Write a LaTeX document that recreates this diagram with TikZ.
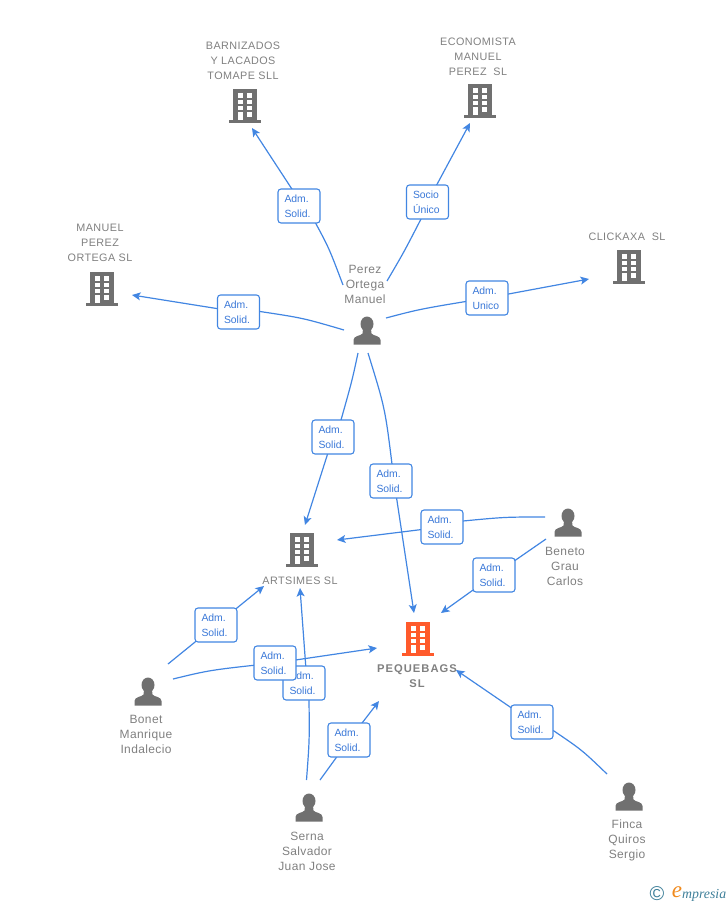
\documentclass[tikz,border=0pt]{standalone}
\usepackage{fontspec}
\setmainfont{Liberation Sans}
\newfontfamily\logoserif{Liberation Serif}
\newfontfamily\upfam[LetterSpace=4]{Liberation Sans}
\newfontfamily\perfam[LetterSpace=3]{Liberation Sans}
\newfontfamily\mainfam[LetterSpace=9]{Liberation Sans}
\usetikzlibrary{arrows.meta,calc,backgrounds}
\definecolor{edgeblue}{HTML}{4286E2}
\definecolor{labblue}{HTML}{3A78D8}
\definecolor{icongrey}{HTML}{707070}
\definecolor{txtgrey}{HTML}{808080}
\definecolor{mainorange}{HTML}{FF5A2B}
\definecolor{logoteal}{HTML}{3E7F99}
\definecolor{logoorange}{HTML}{F08A1D}
\tikzset{
  edgeline/.style={draw=edgeblue,line width=1.2pt,-{Stealth[length=8.5pt,width=8pt,inset=2pt]}},
  rolebox/.style={draw=edgeblue,line width=1.1pt,fill=white,rounded corners=3pt,minimum height=34pt,inner xsep=6.5pt,inner ysep=0pt,text width=29pt,align=left,text=labblue,font=\fontsize{10.4}{15}\selectfont},
  iconnode/.style={inner sep=0pt,minimum width=30pt,minimum height=34pt},
  upname/.style={inner sep=0pt,align=center,text=txtgrey,font=\upfam\fontsize{10.8}{15}\selectfont},
  pername/.style={inner sep=0pt,align=center,text=txtgrey,font=\perfam\fontsize{12}{15}\selectfont},
  mainname/.style={inner sep=0pt,align=center,text=txtgrey,font=\mainfam\fontsize{11.2}{15}\selectfont\bfseries}
}
\newcommand{\bldg}[4]{%
  \node[iconnode] (#1) at (#2,#3) {};
  \begin{scope}[shift={(#2,#3)}]
    \fill[#4] (-12,-17) rectangle (12,15);
    \fill[#4] (-16,14) rectangle (16,17);
    \foreach \yy/\hh in {-13/4.5,-6/4,0/3.5,6/4.5}{
      \fill[white] (2,\yy) rectangle (7,\yy+\hh);
    }
    \foreach \yy/\hh in {-13/4.5,-6/4,0/3.5,6/8}{
      \fill[white] (-7.5,\yy) rectangle (-2.5,\yy+\hh);
    }
  \end{scope}}
\newcommand{\persona}[3]{%
  \node[iconnode] (#1) at (#2,#3) {};
  \begin{scope}[shift={(#2,#3)}]
    \fill[icongrey] (0,-7) ellipse (6.5 and 7.5);
    \fill[icongrey] (-13.5,13.5) -- (-13.5,9) .. controls (-13.5,4.5) and (-6,5) .. (-4.5,2.5)
      -- (-4,-2) -- (4,-2) -- (4.5,2.5) .. controls (6,5) and (13.5,4.5) .. (13.5,9) -- (13.5,13.5) -- cycle;
  \end{scope}}
\begin{document}
\begin{tikzpicture}[x=1pt,y=-1pt]
\useasboundingbox (0,0) rectangle (728,905);
% icons
\bldg{bar}{245}{106}{icongrey}
\bldg{eco}{480}{101}{icongrey}
\bldg{man}{102}{289}{icongrey}
\bldg{cli}{629}{267}{icongrey}
\bldg{art}{302}{550}{icongrey}
\bldg{peq}{418}{639}{mainorange}
\persona{per}{367}{331}
\persona{ben}{568}{523}
\persona{bon}{148}{692}
\persona{ser}{309}{808}
\persona{fin}{629}{797}
% names
\node[upname] (tbar) at (243,60.5) {BARNIZADOS\\Y LACADOS\\TOMAPE SLL};
\node[upname] (teco) at (478,56.5) {ECONOMISTA\\MANUEL\\PEREZ\ \ SL};
\node[upname] (tman) at (100,242.5) {MANUEL\\PEREZ\\ORTEGA SL};
\node[upname] (tcli) at (627,236.5) {CLICKAXA\ \ SL};
\node[upname] (tart) at (300,580.5) {ARTSIMES SL};
\node[mainname] (tpeq) at (417,676) {PEQUEBAGS\\SL};
\node[pername] (tper) at (365,284.5) {Perez\\Ortega\\Manuel};
\node[pername] (tben) at (565,566.5) {Beneto\\Grau\\Carlos};
\node[pername] (tbon) at (146,734.5) {Bonet\\Manrique\\Indalecio};
\node[pername] (tser) at (307,851.5) {Serna\\Salvador\\Juan Jose};
\node[pername] (tfin) at (627,840.5) {Finca\\Quiros\\Sergio};
% role boxes
\node[rolebox] (r1) at (299,206) {Adm.\\Solid.};
\node[rolebox] (r2) at (427.5,202) {Socio\\Único};
\node[rolebox] (r3) at (238.5,312) {Adm.\\Solid.};
\node[rolebox] (r4) at (487,298) {Adm.\\Unico};
\node[rolebox] (r5) at (333,437) {Adm.\\Solid.};
\node[rolebox] (r6) at (391,481) {Adm.\\Solid.};
\node[rolebox] (r7) at (442,527) {Adm.\\Solid.};
\node[rolebox] (r8) at (494,575) {Adm.\\Solid.};
\node[rolebox] (r9) at (216,625) {Adm.\\Solid.};
\node[rolebox] (r11) at (304,683) {Adm.\\Solid.};
\node[rolebox] (r10) at (275,663) {Adm.\\Solid.};
\node[rolebox] (r12) at (349,740) {Adm.\\Solid.};
\node[rolebox] (r13) at (532,722) {Adm.\\Solid.};
% connectors
\begin{scope}[on background layer]
\draw[edgeline] ($(per)+(-24,-46)$) .. controls (329,248) .. (315,222) -- ($(r1.center)+(4,0)$) -- ($(bar)+(7,22)$);
\draw[edgeline] ($(per)+(20,-50)$) .. controls (404,252) .. (421,219) -- (r2.center) -- ($(eco)+(-10,22)$);
\draw[edgeline] ($(per)+(-23,-1)$) .. controls (303,318) .. (260,311.5) -- (r3.center) -- ($(man)+(30,6)$);
\draw[edgeline] ($(per)+(19,-13)$) .. controls (420,309) .. (r4.center) -- ($(cli)+(-40,12)$);
\draw[edgeline] ($(per)+(-9,22)$) .. controls (352,381) .. (341,420) -- (r5.center) -- ($(art)+(3,-25)$);
\draw[edgeline] ($(per)+(1,22)$) .. controls (385,408) .. (392,464) -- ($(r6.center)+(3,0)$) -- ($(peq)+(-4,-26)$);
\draw[edgeline] ($(ben)+(-23,-6)$) .. controls (505,517) .. (463,521) -- (r7.center) -- ($(art)+(35,-10)$);
\draw[edgeline] ($(ben)+(-22,16)$) -- (r8.center) -- ($(peq)+(23,-26)$);
\draw[edgeline] ($(bon)+(20,-28)$) -- (r9.center) -- ($(art)+(-38,36)$);
\draw[edgeline] ($(bon)+(25,-13)$) .. controls (210,670) .. (r10.center) -- ($(peq)+(-41,9)$);
\draw[edgeline] ($(ser)+(-2.5,-28)$) .. controls (309.5,740) .. (309,700) -- ($(r11.center)+(3,0)$) -- ($(art)+(-2,38)$);
\draw[edgeline] ($(ser)+(11,-28)$) -- (r12.center) -- ($(peq)+(-39,62)$);
\draw[edgeline] ($(fin)+(-22,-23)$) .. controls (582,750) .. (554,731) -- (r13.center) -- ($(peq)+(38,31)$);
\end{scope}
% logo
\node[inner sep=0pt,text=logoteal,font=\fontsize{20}{20}\selectfont] (lc) at (657,893.5) {©};
\node[inner sep=0pt,text=logoorange,font=\logoserif\itshape\fontsize{23}{23}\selectfont] (le) at (677,892) {e};
\node[inner sep=0pt,anchor=west,text=logoteal,font=\logoserif\itshape\fontsize{13.8}{13.8}\selectfont] (lm) at (682,895) {mpresia};
\end{tikzpicture}
\end{document}
